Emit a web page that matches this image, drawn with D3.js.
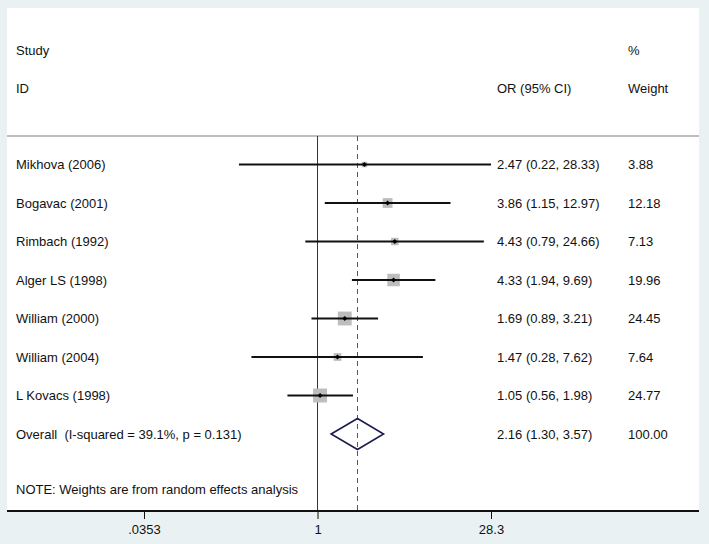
<!DOCTYPE html>
<html><head><meta charset="utf-8">
<script src="https://cdn.jsdelivr.net/npm/d3@7"></script>
<style>body{margin:0;background:#eaf1f3;} text{font-family:"Liberation Sans",Arial,sans-serif;font-size:13px;fill:#111;}</style>
</head><body>
<svg id="c" width="709" height="544"></svg>
<script>
const studies = ["Mikhova (2006)","Bogavac (2001)","Rimbach (1992)","Alger LS (1998)","William (2000)","William (2004)","L Kovacs (1998)"];
const orVals  = [2.47, 3.86, 4.43, 4.33, 1.69, 1.47, 1.05];
const loVals  = [0.22, 1.15, 0.79, 1.94, 0.89, 0.28, 0.56];
const hiVals  = [28.33, 12.97, 24.66, 9.69, 3.21, 7.62, 1.98];
const weights = [3.88, 12.18, 7.13, 19.96, 24.45, 7.64, 24.77];
const overall = {label:"Overall  (I-squared = 39.1%, p = 0.131)", or:2.16, lo:1.30, hi:3.57, w:"100.00"};
const tickVals = [0.0353, 1, 28.3];
const tickLabels = [".0353", "1", "28.3"];
const note = "NOTE: Weights are from random effects analysis";

const svg = d3.select("#c");
svg.append("rect").attr("x",0).attr("y",0).attr("width",709).attr("height",544).attr("fill","#eaf1f3");
svg.append("rect").attr("x",7).attr("y",8).attr("width",692).attr("height",503).attr("fill","#fff");

const x = d3.scaleLog().domain([0.0353, 28.3]).range([144, 491]);
const rowY = d3.scaleLinear().domain([0, 1]).range([164.5, 203]);
const topY = 136, axisY = 511;

// divider line
svg.append("line").attr("x1",7).attr("x2",699).attr("y1",topY).attr("y2",topY)
  .attr("stroke","#a9a9a9").attr("stroke-width",1.5);

// null line
svg.append("line").attr("x1",x(1)).attr("x2",x(1)).attr("y1",topY).attr("y2",axisY)
  .attr("stroke","#333").attr("stroke-width",1);
// overall dashed line
svg.append("line").attr("x1",x(overall.or)).attr("x2",x(overall.or)).attr("y1",topY).attr("y2",axisY)
  .attr("stroke","#8b4040").attr("stroke-width",1).attr("stroke-dasharray","5,4");

// headers
svg.append("text").attr("x",16).attr("y",55).text("Study");
svg.append("text").attr("x",16).attr("y",93).text("ID");
svg.append("text").attr("x",497).attr("y",93).text("OR (95% CI)");
svg.append("text").attr("x",628).attr("y",55).text("%");
svg.append("text").attr("x",628).attr("y",93).text("Weight");

const rows = studies.map((s,i)=>({s, or:orVals[i], lo:loVals[i], hi:hiVals[i], w:weights[i], i}));
const g = svg.append("g");
rows.forEach(d=>{
  const y = rowY(d.i);
  const side = 2.8*Math.sqrt(d.w);
  g.append("rect").attr("x",x(d.or)-side/2).attr("y",y-side/2).attr("width",side).attr("height",side).attr("fill","#bdbdbd");
  g.append("line").attr("x1",x(d.lo)).attr("x2",x(d.hi)).attr("y1",y).attr("y2",y).attr("stroke","#111").attr("stroke-width",2);
  g.append("path").attr("d",`M${x(d.or)-2.5},${y}L${x(d.or)},${y-2.5}L${x(d.or)+2.5},${y}L${x(d.or)},${y+2.5}Z`).attr("fill","#000");
  g.append("text").attr("x",16).attr("y",y+4.5).text(d.s);
  g.append("text").attr("x",497).attr("y",y+4.5).text(`${d.or.toFixed(2)} (${d.lo.toFixed(2)}, ${d.hi.toFixed(2)})`);
  g.append("text").attr("x",628).attr("y",y+4.5).text(d.w.toFixed(2));
});

// overall
const oy = rowY(7);
svg.append("path").attr("d",`M${x(overall.lo)},${oy}L${x(overall.or)},${oy-15.5}L${x(overall.hi)},${oy}L${x(overall.or)},${oy+15.5}Z`)
  .attr("fill","none").attr("stroke","#1c1c50").attr("stroke-width",1.6);
svg.append("text").attr("x",16).attr("y",oy+4.5).text(overall.label).style("white-space","pre").attr("xml:space","preserve");
svg.append("text").attr("x",497).attr("y",oy+4.5).text(`${overall.or.toFixed(2)} (${overall.lo.toFixed(2)}, ${overall.hi.toFixed(2)})`);
svg.append("text").attr("x",628).attr("y",oy+4.5).text(overall.w);

svg.append("text").attr("x",16).attr("y",494).text(note);

// axis
const axis = d3.axisBottom(x).tickValues(tickVals).tickFormat((d,i)=>tickLabels[i]).tickSize(8).tickPadding(6);
const ag = svg.append("g").attr("transform",`translate(0,${axisY})`).call(axis);
ag.select(".domain").remove();
ag.selectAll(".tick line").attr("stroke","#111");
ag.selectAll(".tick text").style("font-size","13px").style("font-family","Liberation Sans, Arial, sans-serif").attr("fill","#111");
svg.append("line").attr("x1",7).attr("x2",699).attr("y1",axisY).attr("y2",axisY).attr("stroke","#111").attr("stroke-width",2);
</script>
</body></html>
